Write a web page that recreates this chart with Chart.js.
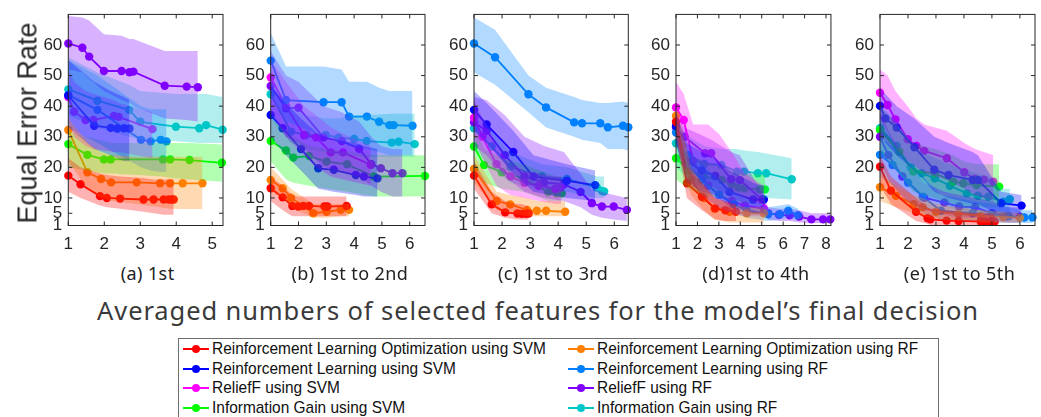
<!DOCTYPE html>
<html>
<head>
<meta charset="utf-8">
<script src="https://cdn.jsdelivr.net/npm/chart.js@4.4.1/dist/chart.umd.min.js"></script>
<style>
  html, body { margin: 0; padding: 0; background: #fff; }
  body { width: 1041px; height: 417px; overflow: hidden; position: relative; }
  .panel { position: absolute; }
  .ytitle {
    position: absolute; left: 28px; top: 123px; white-space: nowrap;
    transform: translate(-50%, -50%) rotate(-90deg);
    font: 27px "Liberation Sans", Arial, sans-serif; color: #262626;
  }
  .ptitle {
    position: absolute; top: 273px; white-space: nowrap; transform: translate(-50%, -50%);
    font: 18px "Noto Sans", sans-serif; letter-spacing: 0.4px; color: #222;
  }
  .xtitle {
    position: absolute; left: 538px; top: 310px; white-space: nowrap; transform: translate(-50%, -50%);
    font: 25.5px "Noto Sans", sans-serif; letter-spacing: 0.9px; color: #3a3a3a;
  }
  .legend {
    position: absolute; left: 178px; top: 338px; width: 761px; height: 100px;
    border: 1px solid #6e6e6e; box-sizing: border-box; background: #fff;
  }
  .item { position: absolute; height: 20px; white-space: nowrap;
    font: 17px "Liberation Sans", Arial, sans-serif; color: #111; }
  .item .mk { position: absolute; left: 0; top: 9px; width: 26px; height: 2px; }
  .item .dot { position: absolute; left: 9px; top: -3px; width: 8px; height: 8px; border-radius: 50%; }
  .item .tx { position: absolute; left: 29px; top: 0; line-height: 20px; transform-origin: 0 50%; }
</style>
</head>
<body>
<script>
// ---- axis ticks and labels ----
const Y_TICKS = [1, 5, 10, 20, 30, 40, 50, 60];
const X_TICKS_A = [1, 2, 3, 4, 5];
const X_TICKS_B = [1, 2, 3, 4, 5, 6];
const X_TICKS_C = [1, 2, 3, 4, 5, 6];
const X_TICKS_D = [1, 2, 3, 4, 5, 6, 7, 8];
const X_TICKS_E = [1, 2, 3, 4, 5, 6];
const PANEL_TITLES = ['(a) 1st', '(b) 1st to 2nd', '(c) 1st to 3rd', '(d)1st to 4th', '(e)  1st to 5th'];
const Y_AXIS_TITLE = 'Equal Error Rate';
const X_AXIS_TITLE = 'Averaged numbers of selected features for the model\u2019s final decision';
const SERIES_NAMES = [
  'Reinforcement Learning Optimization using SVM',
  'Reinforcement Learning Optimization using RF',
  'Reinforcement Learning using SVM',
  'Reinforcement Learning using RF',
  'ReliefF using SVM',
  'ReliefF using RF',
  'Information Gain using SVM',
  'Information Gain using RF'
];

// ---- series: rows of [features, EER, lower bound, upper bound] ----
// (a) 1st
const a_rloSvm = [[1,17.3,12,23],[1.34,14.5,10,20],[1.88,10.6,7.5,18],[2.07,10,7,17.5],[2.44,9.8,6.5,17],[3.09,9.5,5.5,16.5],[3.37,9.5,5,16],[3.65,9.5,4.5,16],[3.79,9.5,4.5,16],[3.88,9.5,4.5,16],[3.93,9.5,4.5,16]];
const a_rloRf = [[1,32.2,22,36],[1.53,18.4,13,28],[1.91,16.2,10,25],[2.19,15.1,9,24],[2.9,15.1,8,23.5],[3.55,14.8,7,23.5],[3.83,14.8,6.5,23.5],[4.18,14.8,6.4,23.5],[4.73,14.8,6.4,23.5]];
const a_rlSvm = [[1,43.5,33,55],[1.72,33.6,26,48],[2.18,32.9,24,45],[2.36,32.7,23,44],[2.55,32.8,22,43],[2.7,32.7,22,42]];
const a_rlRf = [[1,43.7,33,55],[1.81,38.8,28,50],[3.02,29,20,40],[3.29,28.5,19,39],[3.57,29,18.5,39],[3.73,28.5,18.5,39]];
const a_rfSvm = [[1,43,35,52],[1.16,38.2,30,48],[1.48,35.5,27,45],[1.7,35.5,26,44],[2.27,36.8,25,42],[2.4,36.5,25,41],[3.34,32.5,23,38]];
const a_rfRf = [[1,60.5,52,69.5],[1.39,59.1,51,69],[1.58,56.2,49,68],[1.99,51.5,45,63.5],[2.48,51.5,42,63],[2.7,51.1,41,62],[2.81,51.3,40,62],[3.68,46.7,36,58],[4.29,46.4,35.5,58],[4.6,46.2,35,58]];
const a_igSvm = [[1,27.6,20,32],[1.53,24.1,19,30],[1.99,22.6,18,28.5],[2.18,22.6,18,28],[3.63,22.6,17,28],[3.83,22.6,16.5,28],[4.37,22.4,16,28],[5.27,21.5,15.3,27.5]];
const a_igRf = [[1,45.5,37,56],[1.81,41.8,33,51],[2.69,38.8,30,47],[3,34.9,29,45],[3.99,33.3,28.5,44],[4.64,32.8,28,44],[4.83,33.8,28,44],[5.29,32.3,28,43]];

// (b) 1st to 2nd
const b_rloSvm = [[1,13.2,9,17],[1.43,10.2,6,14],[1.78,7.4,4,11],[1.99,7.2,4,10.5],[2.17,7.4,4,10.5],[2.38,7.4,4,10.5],[2.93,7.2,4,10.5],[3.04,7.2,4,10.5],[3.73,7.4,4,10.5]];
const b_rloRf = [[1,15.9,12,20],[1.43,13.2,10,16],[1.73,10.1,7,13],[2.53,5,3.5,8],[3.01,5.5,3.5,8],[3.52,6.1,4,8],[3.82,6.1,4,8]];
const b_rlSvm = [[1,37.1,30,47],[1.43,32.8,25,42],[2.09,26,19,36],[2.71,19.7,13,31],[3.27,19.2,12,29],[4.06,17.5,11,28],[4.35,17,10.5,27],[4.84,16.4,10.5,26]];
const b_rlRf = [[1,54.9,45,64],[1.55,42,35,53],[2.9,41.3,30,53],[3.55,41.3,28,52],[3.82,36.6,27,48],[4.46,36.6,26,48],[4.9,34.9,25,46],[5.27,33.8,24,45],[5.42,33.8,24,45],[6.1,33.6,24,45]];
const b_rfSvm = [[1,49.4,38,55],[1.55,40,30,48],[2.2,30.5,24,40],[2.63,29.8,20,37],[3.16,24.9,17,33],[3.6,24.9,16,31],[4.6,20.8,14,27]];
const b_rfRf = [[1,46.6,38,58],[1.55,39.3,30,50],[2,39.5,28,48],[2.9,29.8,20,40],[3.56,28.6,19,38],[4.18,26.1,17,35],[4.62,21,14,30],[4.96,19.7,12,27],[5.38,18.1,10.5,26],[5.74,18.1,10.5,26]];
const b_igSvm = [[1,28.6,22,36],[1.55,25.5,16,32],[1.81,23.2,15,30],[2.38,23.7,14,27],[3.01,21.9,13,26],[3.75,21,12,25],[4.71,17,10.5,24],[6.55,17.2,10.5,24]];
const b_igRf = [[1,43.9,36,48],[1.73,31.7,28,40],[2.27,30.6,26,37],[2.98,30.6,25,36],[3.44,29.7,24,36],[4,29.3,24,37],[4.45,28.6,23.5,37],[5.35,28.1,23.5,37.5],[5.6,28.4,23.5,37.5],[6.18,27.6,23.5,37.5]];

// (c) 1st to 3rd
const c_rloSvm = [[1,17.3,13,22],[1.63,7.9,5,12],[2.11,5.3,3.5,9],[2.55,4.9,3,8],[2.7,4.8,3,8],[2.85,4.8,3,7.5],[2.95,4.9,3,7.5]];
const c_rloRf = [[1,19.5,15,24],[1.81,9,6,12],[2.29,7.9,5,11],[2.9,6,4,10],[3.24,5.8,4,9],[3.57,5.8,4,9],[4.25,5.5,4,9]];
const c_rlSvm = [[1,38.8,32,45],[1.45,34,28,41],[2.4,25,18,32],[3.12,17,12,24],[4.31,15.6,10,21],[5.32,14.2,9,19]];
const c_rlRf = [[1,60.5,51,69],[1.75,56,47,65],[2.94,43.9,38,50],[3.57,39.6,33,46],[4.57,34.7,30,43],[4.85,34.4,29,42],[5.5,34.4,28,41],[5.77,33.1,26,41],[6.31,33.6,26,41.5],[6.5,33.1,25.5,41]];
const c_rfSvm = [[1,36.2,30,42],[1.3,30,23,36],[1.8,21,14,27],[2.3,17,11,21],[2.8,15,10,19],[3.3,14,9,18],[3.9,13,8,17],[4.1,13.5,8,17]];
const c_rfRf = [[1,34.7,27,43],[1.45,32,24,42],[2.1,24,17,37],[2.8,17,12,30],[3.5,15,10,27],[4.2,14.5,9,25],[4.8,12,7,18],[5.2,8.3,4.5,13],[5.56,7.2,3.5,12],[5.98,7.2,3,11],[6.45,6.1,2.5,10]];
const c_igSvm = [[1,26.8,20,33],[1.36,20.8,15,26],[1.99,18.4,13,23],[2.76,16.4,12,21],[3.65,11.9,9,18],[3.95,11.5,9,17],[4.13,11.5,9,17]];
const c_igRf = [[1,32.8,26,40],[1.63,26.8,20,32],[2.29,20.2,15,25],[3.42,17,13,21],[4.31,16.2,12,20],[5.38,13.4,10,17],[5.56,12.3,10,17],[5.64,12.1,10,17]];

// (d) 1st to 4th
const d_rloSvm = [[1,34.9,30,38],[1.51,14.8,10,20],[2.21,10.4,6,15],[2.83,6.6,3,10],[3.3,6,2.5,9],[3.8,5.5,2.5,8]];
const d_rloRf = [[1,36.8,32,40],[1.3,27,20,32],[1.7,16,11,20],[2.3,10,6,14],[2.8,6.5,3,10],[3.5,5.5,2,8],[4.3,5,2,7],[5.1,5,2,7]];
const d_rlSvm = [[1,33.5,28,38],[1.5,22,15,28],[2.2,19,12,25],[2.83,17.2,11,23],[3.5,12,7,19],[4.6,9.5,5,15],[5.1,9.5,5,14]];
const d_rlRf = [[1,31.4,27,36],[1.5,21,16,26],[2.2,16,11,21],[3,11,7,16],[3.7,8,5,12],[4.3,6,3.5,10],[5.3,4.7,2.5,7],[5.85,4.7,3,7.5],[6.24,5.8,3.5,8],[6.7,4.4,2.5,6.5]];
const d_rfSvm = [[1,39.6,33,48],[1.36,35.5,26,44],[1.8,22,14,34],[2.5,14,9,34],[3,11,7,31],[3.6,9,5,25],[4.2,7.5,4,18],[5.1,6.5,4,14]];
const d_rfRf = [[1,33,28,38],[1.4,30,20,33],[2.36,24.6,15,30],[2.64,24.6,14,29],[3.57,16.1,10,25],[3.98,15.9,9,24],[5,9.5,6,12],[5.3,5,3,7],[5.8,4.5,2.5,6.5],[6.3,4.3,2.5,6.5],[6.75,3.9,2,6],[7.32,3,1.8,5],[7.86,3,1.8,5],[8.2,3,1.8,5]];
const d_igSvm = [[1,23,16,28],[1.6,19,13,24],[2.3,17,11,22],[3.14,15.9,10,20],[3.6,14.5,9,19],[3.91,13.4,8.5,18],[4.2,13.2,8,18],[4.9,12.8,8,17.5],[5.15,12.8,8,17.5]];
const d_igRf = [[1,27.9,20,35],[1.6,24,16,30],[2.32,21.1,13,27],[3.12,20.8,12,26],[3.85,18.6,11,26],[4.17,18.6,10.5,25.5],[4.82,18.1,10,25],[5.21,18.1,10,24.5],[6.4,16.1,9.5,23]];

// (e) 1st to 5th
const e_rloSvm = [[1,20.2,14,24],[1.39,12.4,8,17],[2.29,5.5,2.5,10],[2.7,3.4,1.5,7],[2.8,3,1.2,6.5],[3.38,2.6,1,6],[3.81,2.5,1,5.5],[4.6,2.3,1,5],[4.77,2.3,1,5],[4.95,2.3,1,5],[5.1,2.3,1,5]];
const e_rloRf = [[1,13.5,9,18],[1.57,10.7,7,14],[2.2,8,5,11],[2.53,7,4,10],[3,5.5,3,8],[3.8,4.8,2.5,7],[4.6,4.2,2,6],[5.4,3.8,2,5.5],[6,3.5,2,5]];
const e_rlSvm = [[1,40.1,32,46],[1.19,36,28,44],[1.6,33,24,40],[2.23,26.6,19,36],[2.94,19.2,12,30],[3.45,17.5,10,28],[4.31,15.9,8,25],[4.5,15.9,8,24],[5.33,8.3,4,12],[6.06,7.5,4,11]];
const e_rlRf = [[1,24.1,17,30],[1.45,20.8,14,27],[2,15,9,22],[2.53,10.4,5,17],[3.18,5.8,3,11],[4.31,5,2.5,9],[5,4.5,2,8],[5.6,4,1.8,7],[6.16,3.6,1.8,6],[6.45,3.6,1.8,6]];
const e_rfSvm = [[1,44.4,36,52],[1.27,40.4,32,50],[1.55,35.7,27,45],[1.99,29.2,22,40],[2.3,27,20,36],[2.58,25.4,18,34],[3.39,23,16,32],[4.01,18.4,13,28],[4.39,16.2,11,26],[4.71,16,10,25],[5.05,15.3,9,24]];
const e_rfRf = [[1,30,22,38],[1.3,24,16,32],[1.8,17,10,24],[2.58,10.1,6,15],[3.3,8.5,4.5,12],[3.83,7.2,3.5,11],[4.4,7,3.5,10],[5,5,2.5,9],[5.5,3.9,2,7],[6,3.9,2,7]];
const e_igSvm = [[1,32.2,25,40],[1.69,25.1,18,33],[2.19,18.6,12,28],[2.96,18.1,10,26],[3.62,15.3,8,24],[3.98,14.8,7,22],[4.45,14.2,7,21],[5.26,13.7,7,21]];
const e_igRf = [[1,32.8,24,40],[1.6,27,19,35],[2.1,20,13,28],[2.49,18.1,11,25],[2.96,16.4,9,23],[3.5,14,7,21],[4.1,11.5,5,19],[4.5,10.7,5,18],[4.87,10.4,5,17],[5.4,8.8,4,13],[5.64,9.6,4,13]];

// ---- styling ----
const COLORS = ['#ff0000', '#ff8000', '#0000ff', '#0080ff', '#ff00ff', '#8000ff', '#00ff00', '#00c8c8'];
const BAND_ALPHA = 0.3;
const TICK_COLOR = '#262626';
const LEGEND_TEXT_W = 334;   // width of the longest legend entry

const PANELS = [
  { series: [a_rloSvm, a_rloRf, a_rlSvm, a_rlRf, a_rfSvm, a_rfRf, a_igSvm, a_igRf], xMax: 5.3,  xTicks: X_TICKS_A, left: 68.3,  right: 223 },
  { series: [b_rloSvm, b_rloRf, b_rlSvm, b_rlRf, b_rfSvm, b_rfRf, b_igSvm, b_igRf], xMax: 6.55, xTicks: X_TICKS_B, left: 270.7, right: 425 },
  { series: [c_rloSvm, c_rloRf, c_rlSvm, c_rlRf, c_rfSvm, c_rfRf, c_igSvm, c_igRf], xMax: 6.5,  xTicks: X_TICKS_C, left: 474,   right: 628.3 },
  { series: [d_rloSvm, d_rloRf, d_rlSvm, d_rlRf, d_rfSvm, d_rfRf, d_igSvm, d_igRf], xMax: 8.23, xTicks: X_TICKS_D, left: 676,   right: 831.7 },
  { series: [e_rloSvm, e_rloRf, e_rlSvm, e_rlRf, e_rfSvm, e_rfRf, e_igSvm, e_igRf], xMax: 6.54, xTicks: X_TICKS_E, left: 880,   right: 1035 }
];
const PLOT_TOP = 14.4, PLOT_BOTTOM = 225.5;
const CANVAS_TOP = -10, CANVAS_H = 270, Y_AXIS_W = 50;

function rgba(hex, a) {
  const n = parseInt(hex.slice(1), 16);
  return `rgba(${(n >> 16) & 255},${(n >> 8) & 255},${n & 255},${a})`;
}

// box around the plot area with inward tick marks on all four sides
const framePlugin = {
  id: 'frame',
  afterDatasetsDraw(chart) {
    const { ctx, chartArea: a, scales } = chart;
    ctx.save();
    ctx.strokeStyle = TICK_COLOR;
    ctx.lineWidth = 1;
    ctx.strokeRect(a.left, a.top, a.right - a.left, a.bottom - a.top);
    ctx.beginPath();
    scales.x.ticks.forEach(t => {
      const px = scales.x.getPixelForValue(t.value);
      ctx.moveTo(px, a.bottom); ctx.lineTo(px, a.bottom - 4);
      ctx.moveTo(px, a.top); ctx.lineTo(px, a.top + 4);
    });
    scales.y.ticks.forEach(t => {
      const py = scales.y.getPixelForValue(t.value);
      ctx.moveTo(a.left, py); ctx.lineTo(a.left + 4, py);
      ctx.moveTo(a.right, py); ctx.lineTo(a.right - 4, py);
    });
    ctx.stroke();
    ctx.restore();
  }
};

PANELS.forEach((p, pi) => {
  const cLeft = Math.round(p.left) - Y_AXIS_W;
  const yW = p.left - cLeft;
  const cW = Math.ceil(p.right) - cLeft + 8;
  const rightPad = cW - (p.right - cLeft);

  const canvas = document.createElement('canvas');
  canvas.className = 'panel';
  canvas.width = cW; canvas.height = CANVAS_H;
  canvas.style.left = cLeft + 'px';
  canvas.style.top = CANVAS_TOP + 'px';
  canvas.style.width = cW + 'px';
  canvas.style.height = CANVAS_H + 'px';
  document.body.appendChild(canvas);

  const datasets = [];
  p.series.forEach((rows, si) => {
    datasets.push({
      label: SERIES_NAMES[si],
      data: rows.map(r => ({ x: r[0], y: r[1] })),
      borderColor: COLORS[si], backgroundColor: COLORS[si],
      borderWidth: 1.8, pointRadius: 4.2, pointBorderWidth: 0,
      pointBackgroundColor: COLORS[si], fill: false, order: 2, clip: false
    });
  });
  p.series.forEach((rows, si) => {
    datasets.push({
      data: rows.map(r => ({ x: r[0], y: r[3] })),
      borderWidth: 0, pointRadius: 0, fill: '+1',
      backgroundColor: rgba(COLORS[si], BAND_ALPHA), order: 1
    });
    datasets.push({
      data: rows.map(r => ({ x: r[0], y: r[2] })),
      borderWidth: 0, pointRadius: 0, fill: false, order: 1
    });
  });

  const tickFont = { family: '"Liberation Sans", Arial, sans-serif', size: 17 };
  new Chart(canvas, {
    type: 'line',
    data: { datasets },
    plugins: [framePlugin],
    options: {
      responsive: false, animation: false, devicePixelRatio: 1,
      layout: { padding: { top: PLOT_TOP - CANVAS_TOP, right: rightPad, left: 0, bottom: 0 } },
      plugins: { legend: { display: false }, tooltip: { enabled: false }, filler: { propagate: false } },
      elements: { line: { tension: 0 } },
      scales: {
        x: {
          type: 'linear', min: 1, max: p.xMax,
          grid: { display: false, drawTicks: false }, border: { display: false },
          ticks: { font: tickFont, color: TICK_COLOR, padding: 9, maxRotation: 0 },
          afterBuildTicks: s => { s.ticks = p.xTicks.map(v => ({ value: v })); },
          afterFit: s => { s.height = CANVAS_H - (PLOT_BOTTOM - CANVAS_TOP); }
        },
        y: {
          type: 'linear', min: 1, max: 70,
          grid: { display: false, drawTicks: false }, border: { display: false },
          ticks: { font: tickFont, color: TICK_COLOR, padding: 6 },
          afterBuildTicks: s => { s.ticks = Y_TICKS.map(v => ({ value: v })); },
          afterFit: s => { s.width = yW; }
        }
      }
    }
  });

  const t = document.createElement('div');
  t.className = 'ptitle';
  t.style.left = ((p.left + p.right) / 2 + 2) + 'px';
  t.textContent = PANEL_TITLES[pi];
  document.body.appendChild(t);
});

// axis titles
const yt = document.createElement('div');
yt.className = 'ytitle'; yt.textContent = Y_AXIS_TITLE;
document.body.appendChild(yt);
const xt = document.createElement('div');
xt.className = 'xtitle'; xt.textContent = X_AXIS_TITLE;
document.body.appendChild(xt);

// legend: two columns, four rows, text condensed to a fixed width
const legend = document.createElement('div');
legend.className = 'legend';
document.body.appendChild(legend);
const texts = [];
SERIES_NAMES.forEach((name, i) => {
  const col = i % 2, row = Math.floor(i / 2);
  const it = document.createElement('div');
  it.className = 'item';
  it.style.left = (col === 0 ? 4 : 389) + 'px';
  it.style.top = (0 + row * 19.7) + 'px';
  const mk = document.createElement('div');
  mk.className = 'mk'; mk.style.background = COLORS[i];
  const dot = document.createElement('div');
  dot.className = 'dot'; dot.style.background = COLORS[i];
  mk.appendChild(dot);
  const tx = document.createElement('div');
  tx.className = 'tx'; tx.textContent = name;
  it.appendChild(mk); it.appendChild(tx);
  legend.appendChild(it);
  texts.push(tx);
});
const widest = texts[0].getBoundingClientRect().width;
const sx = widest > 0 ? LEGEND_TEXT_W / widest : 1;
texts.forEach(tx => { tx.style.transform = `scaleX(${sx})`; });
</script>
</body>
</html>
